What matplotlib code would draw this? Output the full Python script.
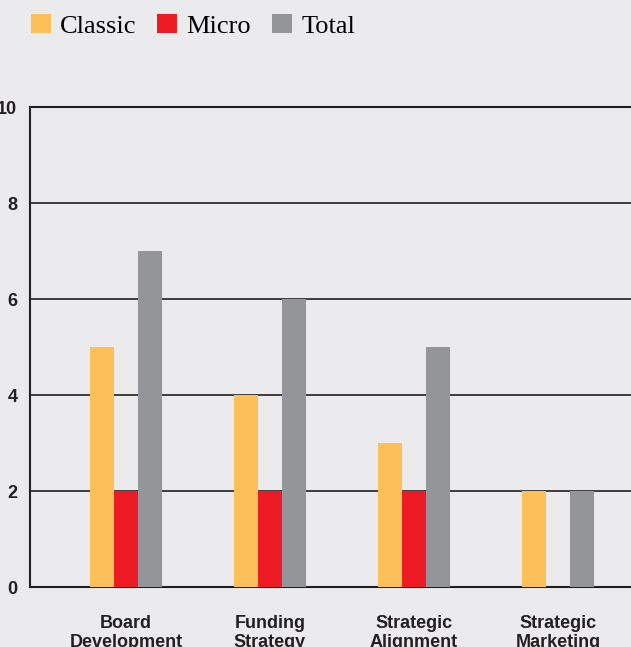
import numpy as np
import matplotlib
matplotlib.use("Agg")
import matplotlib.pyplot as plt
from matplotlib.patches import Patch

# data
categories = ["Board\nDevelopment", "Funding\nStrategy", "Strategic\nAlignment", "Strategic\nMarketing"]
classic = [5, 4, 3, 2]
micro = [2, 2, 2, 0]
total = [7, 6, 5, 2]
series_names = ["Classic", "Micro", "Total"]
colors = ["#FDC058", "#ED1C24", "#939598"]
bg = "#EBEBED"

fig = plt.figure(figsize=(6.31, 6.47), dpi=100, facecolor=bg)
ax = fig.add_axes([30/631, 60/647, 1 - 30/631, 480/647])
ax.set_facecolor(bg)

x = np.arange(len(categories))
w = 24 / 144
for i, (vals, c) in enumerate(zip([classic, micro, total], colors)):
    ax.bar(x + (i - 1) * w, vals, width=w, color=c, zorder=3)

ax.set_ylim(0, 10)
ax.set_xlim(-96/144, (631 - 126) / 144)
ax.set_yticks([0, 2, 4, 6, 8, 10])
ax.yaxis.grid(True, color="#231f20", linewidth=1.2, zorder=1)
ax.set_axisbelow(True)

tick_font = ["Liberation Sans Narrow", "Liberation Sans", "DejaVu Sans"]
ax.set_xticks(x)
ax.set_xticklabels(categories, fontsize=13, fontweight="bold", family=tick_font,
                   color="#231f20", linespacing=1.2)
ax.tick_params(axis="x", length=0, pad=20)
for lbl in ax.get_yticklabels():
    lbl.set_fontsize(13)
    lbl.set_fontweight("bold")
    lbl.set_family(tick_font)
    lbl.set_color("#231f20")
ax.tick_params(axis="y", length=0, pad=9)

for side in ["left", "top", "bottom"]:
    ax.spines[side].set_color("#231f20")
    ax.spines[side].set_linewidth(1.5)
ax.spines["right"].set_visible(False)

handles = [Patch(facecolor=c, edgecolor="none") for c in colors]
fig.legend(handles, series_names, loc="upper left", bbox_to_anchor=(7/631, 1 + 10/647),
           ncol=3, frameon=False, handlelength=0.75, handleheight=0.75, handletextpad=0.35,
           columnspacing=0.8, prop={"family": ["Liberation Serif", "DejaVu Serif"], "size": 19})

fig.savefig("out.png", dpi=100, facecolor=bg)
